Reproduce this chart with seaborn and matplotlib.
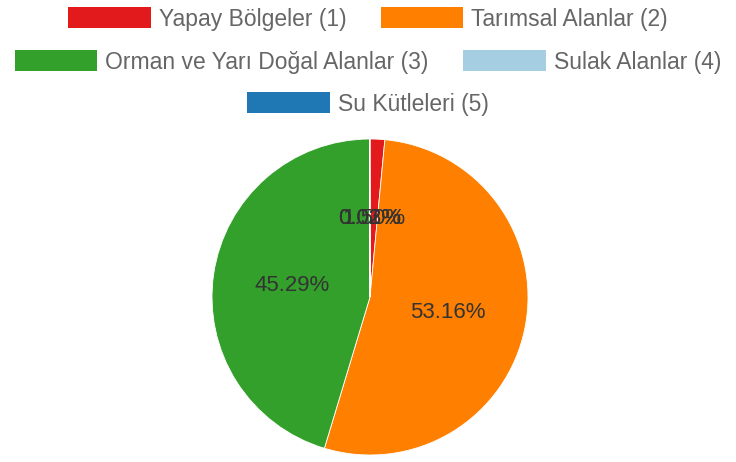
import matplotlib
matplotlib.use('Agg')
import matplotlib.pyplot as plt
import seaborn as sns
from matplotlib.patches import Patch

# Land cover classes and their share (%)
categories = ["Yapay Bölgeler (1)", "Tarımsal Alanlar (2)",
              "Orman ve Yarı Doğal Alanlar (3)", "Sulak Alanlar (4)",
              "Su Kütleleri (5)"]
shares = [1.50, 53.16, 45.29, 0.02, 0.03]
colors = ["#e31a1c", "#ff7f00", "#33a02c", "#a6cee3", "#1f78b4"]
legend_rows = [[0, 1], [2, 3], [4]]

sns.set_theme(style="white")
plt.rcParams['font.family'] = ['Liberation Sans', 'DejaVu Sans']

fig = plt.figure(figsize=(7.36, 4.62), dpi=100)
# pie centred at (370, 297) px, radius ~158 px
ax = fig.add_axes([(370 - 158) / 736, (462 - 455) / 462, 316 / 736, 316 / 462])

wedges, texts, autotexts = ax.pie(
    shares,
    colors=colors,
    startangle=90,
    counterclock=False,
    autopct='%.2f%%',
    pctdistance=0.5,
    wedgeprops=dict(edgecolor='white', linewidth=0.6),
    textprops=dict(fontsize=16, color='#333333'),
)
ax.set_xlim(-1, 1)
ax.set_ylim(-1, 1)
ax.set_aspect('equal')
ax.axis('off')

# Chart.js-like wrapped legend: one legend per row
row_y = [1 - 19 / 462, 1 - 62 / 462, 1 - 104 / 462]
for idxs, y in zip(legend_rows, row_y):
    handles = [Patch(facecolor=colors[i], edgecolor='none') for i in idxs]
    labels = [categories[i] for i in idxs]
    leg = fig.legend(handles, labels, loc='center', bbox_to_anchor=(0.5, y),
                     ncol=len(idxs), frameon=False, fontsize=16.5,
                     handlelength=3.6, handleheight=1.0, handletextpad=0.35,
                     columnspacing=1.5, borderpad=0, borderaxespad=0)
    for t in leg.get_texts():
        t.set_color('#666666')

fig.savefig('out.png', dpi=100)
plt.close(fig)
